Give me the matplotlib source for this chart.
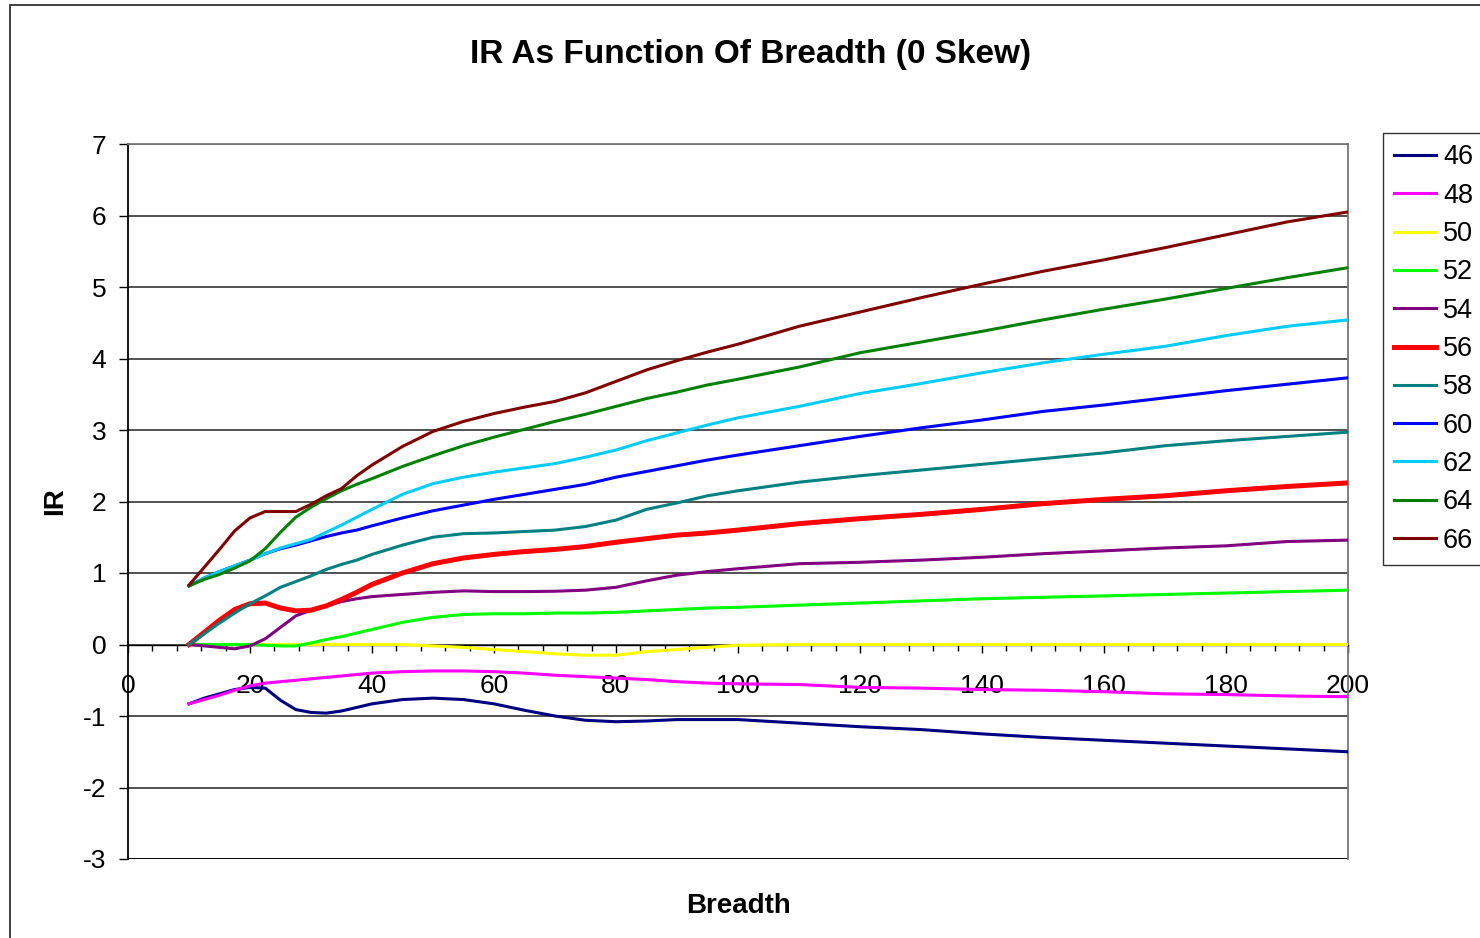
import matplotlib
matplotlib.use("Agg")
import matplotlib.pyplot as plt
from matplotlib.ticker import MultipleLocator
from matplotlib.patches import Rectangle

plt.rcParams['font.family'] = ['Liberation Sans', 'DejaVu Sans']
plt.rcParams['axes.unicode_minus'] = False

breadth = [10, 12.5, 15, 17.5, 20, 22.5, 25, 27.5, 30, 32.5, 35, 37.5, 40,
           45, 50, 55, 60, 65, 70, 75, 80, 85, 90, 95, 100,
           110, 120, 130, 140, 150, 160, 170, 180, 190, 200]

ir_46 = [-0.83, -0.75, -0.69, -0.63, -0.60, -0.61, -0.78, -0.91, -0.95, -0.96, -0.93, -0.88, -0.83,
         -0.77, -0.75, -0.77, -0.83, -0.92, -1.00, -1.06, -1.08, -1.07, -1.05, -1.05, -1.05,
         -1.10, -1.15, -1.19, -1.25, -1.30, -1.34, -1.38, -1.42, -1.46, -1.50]
ir_48 = [-0.83, -0.77, -0.71, -0.64, -0.58, -0.54, -0.52, -0.50, -0.48, -0.46, -0.44, -0.42, -0.40,
         -0.38, -0.37, -0.37, -0.38, -0.40, -0.43, -0.45, -0.47, -0.49, -0.52, -0.54, -0.55,
         -0.56, -0.60, -0.61, -0.63, -0.64, -0.66, -0.69, -0.70, -0.72, -0.73]
ir_50 = [0, 0, 0, 0, 0, 0, 0, 0, 0, 0, 0, 0, 0,
         0, -0.02, -0.04, -0.07, -0.10, -0.13, -0.15, -0.15, -0.10, -0.07, -0.04, -0.01,
         0, 0, 0, 0, 0, 0, 0, 0, 0, 0]
ir_52 = [0, 0, 0, 0, 0, -0.01, -0.02, -0.02, 0.02, 0.07, 0.11, 0.16, 0.21,
         0.31, 0.38, 0.42, 0.43, 0.43, 0.44, 0.44, 0.45, 0.47, 0.49, 0.51, 0.52,
         0.55, 0.58, 0.61, 0.64, 0.66, 0.68, 0.70, 0.72, 0.74, 0.76]
ir_54 = [0, -0.02, -0.04, -0.06, -0.02, 0.08, 0.24, 0.40, 0.48, 0.54, 0.60, 0.64, 0.67,
         0.70, 0.73, 0.75, 0.74, 0.74, 0.745, 0.76, 0.80, 0.89, 0.97, 1.02, 1.06,
         1.13, 1.15, 1.18, 1.22, 1.27, 1.31, 1.35, 1.38, 1.44, 1.46]
ir_56 = [0, 0.17, 0.34, 0.49, 0.57, 0.58, 0.51, 0.47, 0.48, 0.54, 0.63, 0.73, 0.84,
         1.00, 1.13, 1.21, 1.26, 1.30, 1.33, 1.37, 1.43, 1.48, 1.53, 1.56, 1.60,
         1.69, 1.76, 1.82, 1.89, 1.97, 2.03, 2.08, 2.15, 2.21, 2.26]
ir_58 = [0, 0.15, 0.30, 0.44, 0.57, 0.68, 0.80, 0.88, 0.96, 1.05, 1.12, 1.18, 1.26,
         1.39, 1.50, 1.55, 1.56, 1.58, 1.60, 1.65, 1.74, 1.89, 1.98, 2.08, 2.15,
         2.27, 2.36, 2.44, 2.52, 2.60, 2.68, 2.78, 2.85, 2.91, 2.97]
ir_60 = [0.82, 0.93, 1.02, 1.10, 1.18, 1.27, 1.34, 1.39, 1.45, 1.51, 1.56, 1.60, 1.66,
         1.77, 1.87, 1.95, 2.03, 2.10, 2.17, 2.24, 2.34, 2.42, 2.50, 2.58, 2.65,
         2.78, 2.91, 3.03, 3.14, 3.26, 3.35, 3.45, 3.55, 3.64, 3.73]
ir_62 = [0.82, 0.93, 1.02, 1.10, 1.18, 1.27, 1.35, 1.41, 1.47, 1.57, 1.67, 1.78, 1.89,
         2.10, 2.25, 2.34, 2.41, 2.47, 2.53, 2.62, 2.72, 2.85, 2.96, 3.07, 3.17,
         3.33, 3.51, 3.65, 3.80, 3.94, 4.06, 4.17, 4.32, 4.45, 4.54]
ir_64 = [0.82, 0.91, 0.98, 1.07, 1.17, 1.34, 1.57, 1.78, 1.92, 2.04, 2.15, 2.24, 2.32,
         2.49, 2.64, 2.78, 2.90, 3.01, 3.12, 3.22, 3.33, 3.44, 3.53, 3.63, 3.71,
         3.88, 4.08, 4.23, 4.38, 4.54, 4.69, 4.83, 4.98, 5.13, 5.27]
ir_66 = [0.83, 1.08, 1.33, 1.59, 1.77, 1.86, 1.86, 1.86, 1.96, 2.08, 2.18, 2.36, 2.51,
         2.77, 2.98, 3.12, 3.23, 3.32, 3.40, 3.52, 3.68, 3.84, 3.97, 4.09, 4.20,
         4.45, 4.65, 4.85, 5.04, 5.22, 5.38, 5.55, 5.73, 5.91, 6.05]

series_names = ['46', '48', '50', '52', '54', '56', '58', '60', '62', '64', '66']
series_values = [ir_46, ir_48, ir_50, ir_52, ir_54, ir_56, ir_58, ir_60, ir_62, ir_64, ir_66]
series_colors = ['#000080', '#FF00FF', '#FFFF00', '#00FF00', '#800080', '#FF0000',
                 '#008080', '#0000FF', '#00CCFF', '#008000', '#800000']

W, H = 1480, 938
fig = plt.figure(figsize=(W / 100, H / 100), dpi=100)
fig.patch.set_facecolor('white')

# outer chart-area border
fig.add_artist(Rectangle((10 / W, -0.01), 1.1, 1 - 5 / H + 0.01, transform=fig.transFigure,
                         fill=False, edgecolor='#333333', linewidth=1.3))

left, right, top, bottom = 128, 1348, 144, 859
ax = fig.add_axes([left / W, (H - bottom) / H, (right - left) / W, (bottom - top) / H])

for name, vals, col in zip(series_names, series_values, series_colors):
    lw = 3.6 if name == '56' else 2.2
    ax.plot(breadth, vals, color=col, linewidth=lw, label=name, zorder=3,
            solid_joinstyle='round')

ax.set_xlim(0, 200)
ax.set_ylim(-3, 7)
ax.yaxis.set_major_locator(MultipleLocator(1))
ax.xaxis.set_major_locator(MultipleLocator(20))
ax.xaxis.set_minor_locator(MultipleLocator(4))

ax.grid(axis='y', color='#333333', linewidth=1.2, zorder=1)
ax.set_axisbelow(True)

ax.spines['bottom'].set_position(('data', 0))
ax.spines['bottom'].set_color('black')
ax.spines['bottom'].set_linewidth(1.0)
ax.spines['left'].set_color('black')
ax.spines['left'].set_linewidth(1.3)
ax.spines['right'].set_color('#777777')
ax.spines['right'].set_linewidth(1.3)
ax.spines['top'].set_color('#777777')
ax.spines['top'].set_linewidth(1.3)
ax.axhline(-3, color='black', linewidth=1.3, zorder=2)

ax.tick_params(axis='x', which='major', direction='out', length=6, width=1.0,
               pad=15.5, labelsize=19, colors='black')
ax.tick_params(axis='x', which='minor', direction='out', length=4, width=1.0)
ax.tick_params(axis='y', which='major', direction='out', length=6.5, width=1.0,
               pad=9, labelsize=19)

ax.set_xlabel('Breadth', fontsize=20, fontweight='bold')
ax.xaxis.set_label_coords(0.5, -(906 - bottom) / (bottom - top))
ax.xaxis.label.set_va('center')
ax.set_ylabel('IR', fontsize=20, fontweight='bold')
ax.yaxis.set_label_coords(-(128 - 55) / (right - left), 0.5)
ax.yaxis.label.set_va('center')

fig.text(751 / W, 1 - 55 / H, 'IR As Function Of Breadth (0 Skew)', ha='center', va='center',
         fontsize=24, fontweight='bold')

leg = ax.legend(loc='upper left', bbox_to_anchor=(1383 / W, 1 - 133 / H),
                bbox_transform=fig.transFigure, fontsize=19.5, frameon=True, fancybox=False,
                handlelength=1.55, handletextpad=0.25, labelspacing=0.455, borderpad=0.42,
                borderaxespad=0)
leg.get_frame().set_edgecolor('black')
leg.get_frame().set_linewidth(1.0)

fig.savefig('out.png', dpi=100)
